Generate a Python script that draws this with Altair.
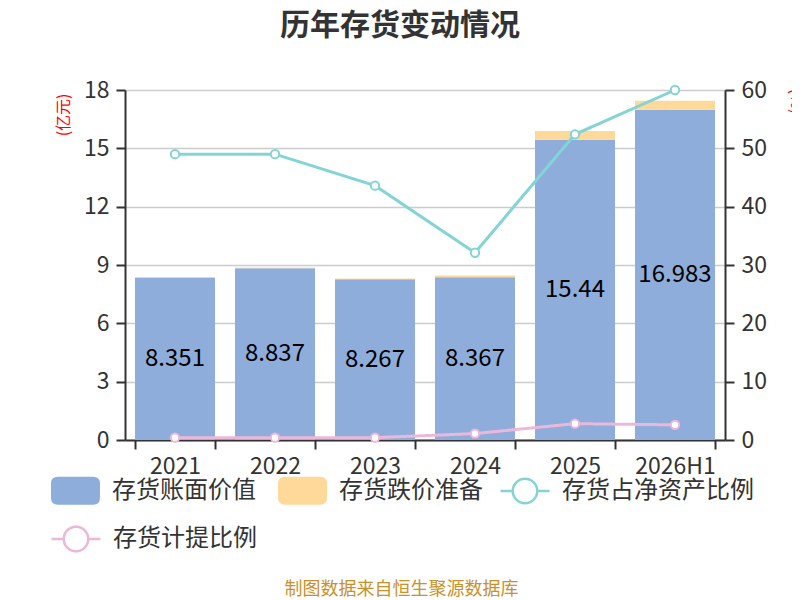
import pandas as pd
import altair as alt

FONT = "Noto Sans CJK SC"

years = ["2021", "2022", "2023", "2024", "2025", "2026H1"]
book_value = [8.351, 8.837, 8.267, 8.367, 15.44, 16.983]
impairment = [0.03, 0.03, 0.04, 0.09, 0.45, 0.46]
ratio_net_assets = [49.0, 49.0, 43.6, 32.1, 52.4, 60.0]
ratio_provision = [0.4, 0.4, 0.4, 1.1, 2.8, 2.6]

series = ["存货账面价值", "存货跌价准备", "存货占净资产比例", "存货计提比例"]
colors = ["#8eaddb", "#ffd99a", "#84d4d6", "#ebb8da"]

bars = pd.DataFrame({
    "year": years * 2,
    "series": [series[0]] * 6 + [series[1]] * 6,
    "value": book_value + impairment,
    "ord": [0] * 6 + [1] * 6,
})
labels = pd.DataFrame({"year": years, "value": book_value})
line_a = pd.DataFrame({"year": years, "series": series[2], "value": ratio_net_assets})
line_b = pd.DataFrame({"year": years, "series": series[3], "value": ratio_provision})

# legend symbols: rounded box for bars, line with ring for lines
RECT = ("M-0.72,-0.57L0.72,-0.57Q1,-0.57 1,-0.29L1,0.29Q1,0.57 0.72,0.57"
        "L-0.72,0.57Q-1,0.57 -1,0.29L-1,-0.29Q-1,-0.57 -0.72,-0.57Z")
RING = ("M-1,0L-0.5,0M0.5,0L1,0M0.5,0A0.5,0.5 0 1 1 -0.5,0"
        "A0.5,0.5 0 1 1 0.5,0Z")

leg_common = dict(
    title=None, orient="none", direction="horizontal", symbolSize=2401,
    labelFontSize=24, labelColor="#333", labelOffset=11, columnPadding=21,
    labelLimit=300, labelFont=FONT, symbolOpacity=1,
)

x_enc = alt.X(
    "year:N", sort=years,
    scale=alt.Scale(paddingInner=0.2, paddingOuter=0.1),
    axis=alt.Axis(
        title="制图数据来自恒生聚源数据库", titleColor="#c8912b", titleFontSize=18,
        titleFontWeight="normal", titleX=276, titleY=149, titleAlign="center",
        titleBaseline="middle", labelAngle=0, labelFontSize=23, labelColor="#333",
        labelPadding=6, domainColor="#333", domainWidth=2, tickColor="#333",
        tickWidth=2, tickSize=9, tickBand="extent",
    ),
)

left_axis = alt.Axis(
    title="(亿元)", titleColor="red", titleFontSize=16, titleFontWeight="normal",
    titleAngle=270, titleX=-62, titleY=3, titleAlign="right", titleBaseline="middle",
    values=[0, 3, 6, 9, 12, 15, 18], labelFontSize=23, labelColor="#333",
    labelPadding=7, domainColor="#333", domainWidth=2, tickColor="#333",
    tickWidth=2, tickSize=9, grid=True, gridColor="#cccccc", gridWidth=1.5,
)
left_scale = alt.Scale(domain=[0, 18], nice=False)

right_axis = alt.Axis(
    orient="right", title="(%)", titleColor="red", titleFontSize=16,
    titleFontWeight="normal", titleAngle=90, titleX=70, titleY=-2,
    titleAlign="left", titleBaseline="middle",
    values=[0, 10, 20, 30, 40, 50, 60], labelFontSize=23,
    labelColor="#333", labelPadding=7, domainColor="#333",
    domainWidth=2, tickColor="#333", tickWidth=2, tickSize=9, grid=False,
)
right_scale = alt.Scale(domain=[0, 60], nice=False)

bar_chart = alt.Chart(bars).mark_bar().encode(
    x=x_enc,
    y=alt.Y("value:Q", stack="zero", scale=left_scale, axis=left_axis),
    fill=alt.Fill(
        "series:N", scale=alt.Scale(domain=series[:2], range=colors[:2]),
        legend=alt.Legend(legendX=-75, legendY=375, columns=2,
                          symbolType=RECT, **leg_common),
    ),
    order=alt.Order("ord:Q"),
)

text_chart = alt.Chart(labels).transform_calculate(
    mid="datum.value / 2"
).mark_text(fontSize=24, color="#000", font=FONT).encode(
    x=x_enc,
    y=alt.Y("mid:Q", scale=left_scale, axis=left_axis),
    text=alt.Text("value:Q", format=".5~g"),
)

line_a_chart = alt.Chart(line_a).mark_line(
    strokeWidth=3,
    point=alt.OverlayMarkDef(filled=False, fill="white", size=70, strokeWidth=2),
).encode(
    x=x_enc,
    y=alt.Y("value:Q", scale=right_scale, axis=right_axis),
    stroke=alt.Stroke(
        "series:N", scale=alt.Scale(domain=[series[2]], range=[colors[2]]),
        legend=alt.Legend(legendX=374, legendY=375, symbolType=RING,
                          symbolStrokeWidth=2.5, symbolFillColor="white",
                          symbolStrokeColor=colors[2], **leg_common),
    ),
)

line_b_chart = alt.Chart(line_b).mark_line(strokeWidth=3, color=colors[3]).encode(
    x=x_enc,
    y=alt.Y("value:Q", scale=right_scale, axis=right_axis),
    strokeDash=alt.StrokeDash(
        "series:N", scale=alt.Scale(domain=[series[3]], range=[[1, 0]]),
        legend=alt.Legend(legendX=-75, legendY=423, symbolType=RING,
                          symbolStrokeWidth=2.5, symbolFillColor="white",
                          symbolStrokeColor=colors[3], **leg_common),
    ),
)

points_b = alt.Chart(line_b).mark_point(
    filled=False, fill="white", color=colors[3], size=70, strokeWidth=2, opacity=1
).encode(
    x=x_enc,
    y=alt.Y("value:Q", scale=right_scale, axis=right_axis),
)

chart = alt.layer(
    alt.layer(bar_chart, text_chart),
    alt.layer(line_a_chart, line_b_chart, points_b),
).resolve_scale(y="independent").properties(
    width=600, height=350,
    padding={"left": 117, "top": 82, "right": 67, "bottom": 158},
    autosize=alt.AutoSizeParams(type="none"),
    title=alt.Title("历年存货变动情况", fontSize=30, fontWeight="bold",
                    color="#333", anchor="middle", dx=-25, offset=38, font=FONT),
).configure(font=FONT).configure_view(stroke=None)

chart.save("out.html", embed_options={"renderer": "svg", "actions": False})
